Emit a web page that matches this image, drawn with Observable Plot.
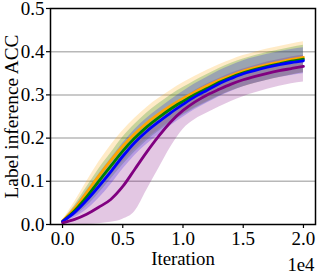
<!DOCTYPE html>
<html>
<head>
<meta charset="utf-8">
<script src="https://cdn.jsdelivr.net/npm/d3@7"></script>
<script src="https://cdn.jsdelivr.net/npm/@observablehq/plot@0.6"></script>
<style>
  html, body { margin: 0; padding: 0; background: white; }
  #chart { width: 318px; height: 276px; }
</style>
</head>
<body>
<div id="chart"></div>
<script>
const iterations = [0,1000,2000,3000,4000,5000,6000,7000,8000,9000,10000,11000,12000,13000,14000,15000,16000,17000,18000,19000,20000];

const seriesNames = ["orange", "green", "blue", "purple"];
const seriesColors = ["#FFA500", "#008000", "#0000FF", "#800080"];

const orangeMean = [0.008,0.037,0.074,0.112,0.148,0.181,0.21,0.235,0.256,0.275,0.292,0.307,0.321,0.334,0.345,0.355,0.363,0.37,0.376,0.382,0.387];
const orangeLo   = [0.006,0.022,0.049,0.08,0.113,0.145,0.174,0.199,0.22,0.239,0.256,0.271,0.285,0.298,0.309,0.319,0.327,0.334,0.34,0.346,0.351];
const orangeHi   = [0.01,0.052,0.099,0.144,0.183,0.217,0.246,0.271,0.292,0.311,0.328,0.343,0.357,0.37,0.381,0.391,0.399,0.406,0.412,0.418,0.423];

const greenMean = [0.007,0.032,0.064,0.1,0.135,0.17,0.2,0.226,0.248,0.268,0.285,0.301,0.315,0.329,0.341,0.351,0.359,0.366,0.372,0.378,0.383];
const greenLo   = [0.005,0.02,0.042,0.072,0.105,0.138,0.168,0.194,0.216,0.236,0.253,0.269,0.283,0.297,0.309,0.319,0.327,0.334,0.34,0.346,0.351];
const greenHi   = [0.009,0.044,0.086,0.128,0.165,0.202,0.232,0.258,0.28,0.3,0.317,0.333,0.347,0.361,0.373,0.383,0.391,0.398,0.404,0.41,0.415];

const blueMean = [0.007,0.028,0.056,0.088,0.122,0.158,0.19,0.216,0.238,0.259,0.278,0.296,0.311,0.326,0.338,0.349,0.357,0.364,0.37,0.375,0.379];
const blueLo   = [0.005,0.016,0.034,0.06,0.092,0.128,0.16,0.186,0.208,0.229,0.248,0.266,0.281,0.296,0.308,0.319,0.327,0.334,0.34,0.345,0.349];
const blueHi   = [0.009,0.04,0.078,0.116,0.152,0.188,0.22,0.246,0.268,0.289,0.308,0.326,0.341,0.356,0.368,0.379,0.387,0.394,0.4,0.405,0.409];

const purpleMean = [0.004,0.012,0.024,0.04,0.058,0.088,0.128,0.168,0.205,0.238,0.264,0.284,0.3,0.313,0.325,0.335,0.343,0.35,0.356,0.361,0.366];
const purpleLo   = [0,0,0,0.002,0.005,0.012,0.03,0.08,0.13,0.18,0.22,0.243,0.258,0.272,0.285,0.296,0.305,0.313,0.32,0.326,0.33];
const purpleHi   = [0.008,0.032,0.06,0.092,0.126,0.16,0.192,0.222,0.248,0.272,0.292,0.31,0.325,0.338,0.35,0.36,0.368,0.376,0.382,0.388,0.392];

const xTicks = [0, 5000, 10000, 15000, 20000];
const yTicks = [0, 0.1, 0.2, 0.3, 0.4, 0.5];
const xLabel = "Iteration";
const yLabel = "Label inference ACC";
const xOffsetLabel = "1e4";

const means = [orangeMean, greenMean, blueMean, purpleMean];
const los = [orangeLo, greenLo, blueLo, purpleLo];
const his = [orangeHi, greenHi, blueHi, purpleHi];

const rows = [];
seriesNames.forEach((s, k) => {
  iterations.forEach((it, i) => {
    rows.push({series: s, iter: it, mean: means[k][i], lo: los[k][i], hi: his[k][i]});
  });
});
const colorOf = Object.fromEntries(seriesNames.map((s, i) => [s, seriesColors[i]]));

const font = "Liberation Serif";
const tickFs = 19;
const labelFs = 18.8;

const marks = [
  Plot.gridY([0.1, 0.2, 0.3, 0.4], {stroke: "#b8b8b8", strokeOpacity: 1, strokeWidth: 1.5})
];
seriesNames.forEach(s => {
  marks.push(Plot.areaY(rows.filter(d => d.series === s), {
    x: "iter", y1: "lo", y2: "hi", fill: colorOf[s], fillOpacity: 0.22, curve: "monotone-x"
  }));
});
seriesNames.forEach(s => {
  marks.push(Plot.lineY(rows.filter(d => d.series === s), {
    x: "iter", y: "mean", stroke: colorOf[s], strokeWidth: 2.8, curve: "monotone-x"
  }));
});
marks.push(
  Plot.axisX(xTicks, {tickSize: 4, tickPadding: 3, tickFormat: d => (d / 1e4).toFixed(1), label: null, stroke: "black", strokeWidth: 1.2, fontSize: tickFs}),
  Plot.axisY(yTicks, {tickSize: 4, tickPadding: 2, tickFormat: d => d.toFixed(1), label: null, stroke: "black", strokeWidth: 1.2, fontSize: tickFs}),
  Plot.frame({stroke: "black", strokeWidth: 1.5}),
  Plot.text([xLabel], {frameAnchor: "bottom", dy: 40, lineAnchor: "bottom", fontSize: labelFs, fill: "black"}),
  Plot.text([xOffsetLabel], {frameAnchor: "bottom-right", dy: 46, dx: -1, textAnchor: "end", lineAnchor: "bottom", fontSize: labelFs, fill: "black"}),
  Plot.text([yLabel], {frameAnchor: "left", dx: -33, rotate: -90, lineAnchor: "bottom", textAnchor: "middle", fontSize: 19.3, fill: "black"})
);

const chart = Plot.plot({
  width: 318,
  height: 276,
  marginLeft: 50,
  marginRight: 3,
  marginTop: 8,
  marginBottom: 52,
  style: {color: "black", background: "white", overflow: "visible"},
  x: {domain: [-1000, 21000]},
  y: {domain: [0, 0.5]},
  marks
});
const sel = d3.select(chart);
sel.attr("font-family", font).style("font-family", font);
sel.selectAll("text").attr("font-family", font).style("font-family", font).style("font-variant", "normal");
document.getElementById("chart").appendChild(chart);
</script>
</body>
</html>
